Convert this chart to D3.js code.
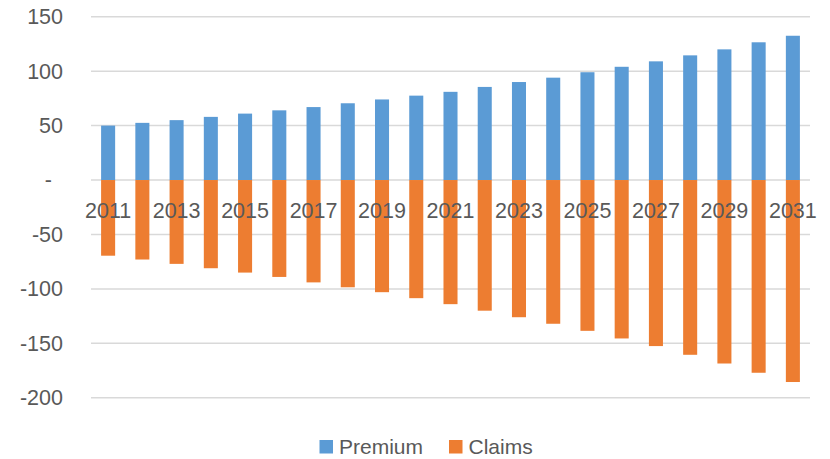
<!DOCTYPE html>
<html><head><meta charset="utf-8">
<script src="https://cdn.jsdelivr.net/npm/d3@7"></script>
<style>body{margin:0;background:#fff}svg{display:block}text{font-family:"Liberation Sans",Arial,sans-serif;fill:#595959}</style>
</head><body><svg id="c" width="830" height="459"></svg>
<script>
const years = [2011,2012,2013,2014,2015,2016,2017,2018,2019,2020,2021,2022,2023,2024,2025,2026,2027,2028,2029,2030,2031];
const premium = [50,52.5,55,58,61,64,67,70.5,74,77.5,81,85.5,90,94,99,104,109,114.5,120,126.5,132.5];
const claims = [-69.5,-73,-77,-81,-85,-89,-94,-98.5,-103,-108.5,-114,-120,-126,-132,-138.5,-145.5,-152.5,-160.5,-168.5,-177,-185.5];
const yTicks = [-200,-150,-100,-50,0,50,100,150];
const seriesNames = ["Premium","Claims"];
const colors = ["#5B9BD5","#ED7D31"];

const svg = d3.select("#c");
const x = d3.scaleBand().domain(years).range([91,810]).paddingInner(0.59).paddingOuter(0.295);
const y = d3.scaleLinear().domain([-200,150]).range([397.8,16.7]);
const fs = "21.5px";

// gridlines
svg.append("g").selectAll("line").data(yTicks).join("line")
  .attr("x1",91).attr("x2",810)
  .attr("y1",d=>y(d)).attr("y2",d=>y(d))
  .attr("stroke","#D9D9D9").attr("stroke-width",1.5);

// y axis labels
const yAxis = d3.axisLeft(y).tickValues(yTicks).tickSize(0).tickPadding(0)
  .tickFormat(d=> d===0 ? "-" : String(d));
const ya = svg.append("g").attr("transform","translate(63,0)").call(yAxis);
ya.select(".domain").remove();
ya.selectAll("text").style("font-size",fs).style("font-family","'Liberation Sans',Arial,sans-serif").attr("fill","#595959")
  .attr("dx",d=>d===0?-11:0);

// bars
const bars = svg.append("g");
bars.selectAll("rect.p").data(years).join("rect").attr("class","p")
  .attr("x",d=>x(d)).attr("width",x.bandwidth())
  .attr("y",(d,i)=>y(premium[i])).attr("height",(d,i)=>y(0)-y(premium[i]))
  .attr("fill",colors[0]);
bars.selectAll("rect.c").data(years).join("rect").attr("class","c")
  .attr("x",d=>x(d)).attr("width",x.bandwidth())
  .attr("y",y(0)).attr("height",(d,i)=>y(claims[i])-y(0))
  .attr("fill",colors[1]);

// x axis labels
const xAxis = d3.axisBottom(x).tickValues(years.filter((d,i)=>i%2===0)).tickSize(0).tickPadding(0);
const xa = svg.append("g").attr("transform",`translate(0,${y(0)})`).call(xAxis);
xa.select(".domain").remove();
xa.selectAll("text").style("font-size",fs).style("font-family","'Liberation Sans',Arial,sans-serif").attr("fill","#595959")
  .attr("dy","1.76em");

// legend
const lg = svg.append("g");
const lx = [319.5, 449];
seriesNames.forEach((n,i)=>{
  lg.append("rect").attr("x",lx[i]).attr("y",440).attr("width",13.5).attr("height",13.5).attr("fill",colors[i]);
  lg.append("text").attr("x",lx[i]+19.5).attr("y",453.5).text(n).style("font-size","21px");
});
</script></body></html>
